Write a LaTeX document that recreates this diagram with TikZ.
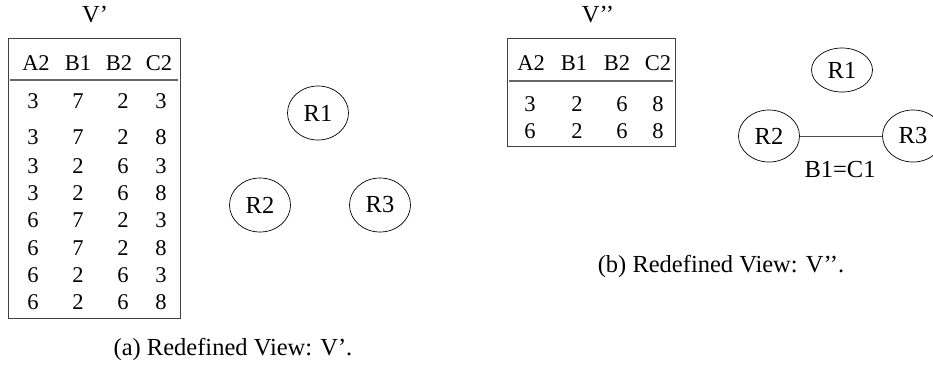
\documentclass[tikz,border=0pt]{standalone}
\usepackage{fontspec}
\setmainfont{Liberation Serif}
\usetikzlibrary{shapes.geometric}
\begin{document}
\begin{tikzpicture}[x=1pt,y=-1pt,
  txt/.style={font=\fontsize{22.5}{26}\selectfont, inner sep=0pt},
  big/.style={font=\fontsize{24.5}{28}\selectfont, inner sep=0pt},
  rel/.style={big, draw, ellipse, line width=0.7pt, minimum width=61pt, minimum height=54pt},
  tbox/.style={draw=black!75, line width=0.8pt},
  hline/.style={draw=black!60, line width=1.2pt},
  edge/.style={draw=black!70, line width=0.8pt}]
\useasboundingbox (0,0) rectangle (933,368);
% ---------- (a) ----------
\node[big] (vp) at (95,15) {V’};
\draw[tbox] (8,38) rectangle (180,318);
\draw[hline] (10,80) -- (178,80);
\foreach \h/\x in {A2/36,B1/78,B2/119,C2/159} \node[txt] (ha\h) at (\x,63) {\h};
\foreach \a/\b/\c/\d/\y [count=\r] in {3/7/2/3/101,3/7/2/8/137,3/2/6/3/166,3/2/6/8/193,6/7/2/3/220,6/7/2/8/248,6/2/6/3/275,6/2/6/8/302} {
  \node[txt] (a\r c1) at (33,\y) {\a};
  \node[txt] (a\r c2) at (78,\y) {\b};
  \node[txt] (a\r c3) at (123,\y) {\c};
  \node[txt] (a\r c4) at (161,\y) {\d};
}
\node[rel] (aR1) at (318,113) {R1};
\node[rel] (aR2) at (260,205) {R2};
\node[rel] (aR3) at (380,205) {R3};
\node[big] (capa) at (233,349) {(a) Redefined View: V’.};
% ---------- (b) ----------
\node[big] (vpp) at (598,15) {V’’};
\draw[tbox] (507,38) rectangle (675,146);
\draw[hline] (509,81) -- (673,81);
\foreach \h/\x in {A2/531,B1/574,B2/617,C2/658} \node[txt] (hb\h) at (\x,63) {\h};
\foreach \a/\b/\c/\d/\y [count=\r] in {3/2/6/8/104,6/2/6/8/131} {
  \node[txt] (b\r c1) at (530,\y) {\a};
  \node[txt] (b\r c2) at (577,\y) {\b};
  \node[txt] (b\r c3) at (622,\y) {\c};
  \node[txt] (b\r c4) at (658,\y) {\d};
}
\node[rel, minimum height=44pt] (bR1) at (842,70) {R1};
\node[rel, minimum height=52pt] (bR2) at (769,136) {R2};
\node[rel, minimum height=52pt] (bR3) at (913,136) {R3};
\draw[edge] (bR2) -- (bR3);
\node[big] (lbl) at (840,170) {B1=C1};
\node[big] (capb) at (721,266) {(b) Redefined View: V’’.};
\end{tikzpicture}
\end{document}
